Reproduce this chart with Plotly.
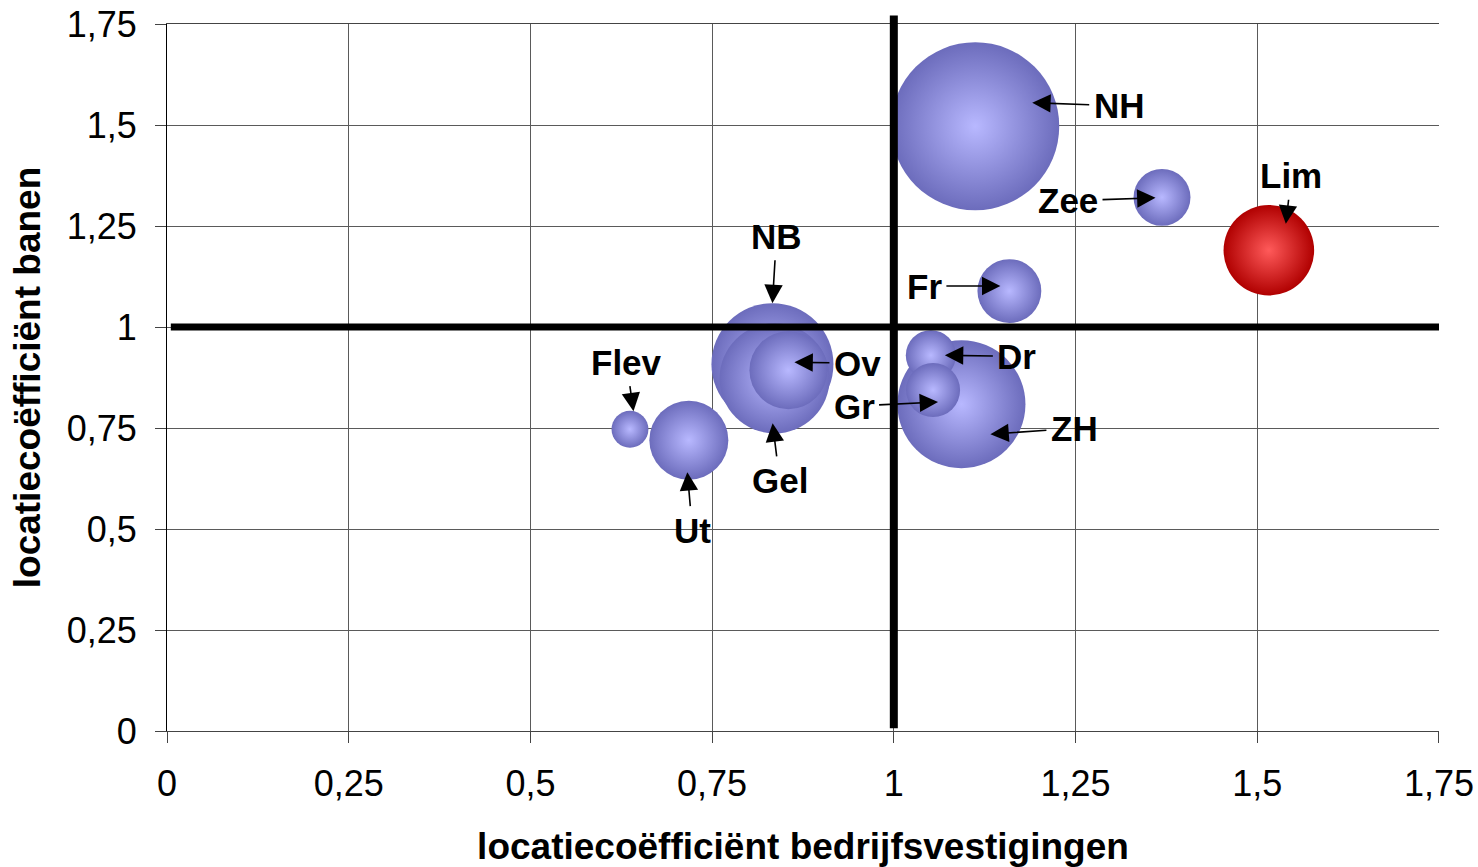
import plotly.graph_objects as go

# Data
regions = ["NH", "ZH", "NB", "Gel", "Ov", "Ut", "Lim", "Fr", "Zee", "Dr", "Gr", "Flev"]
lq_vestigingen = [1.112, 1.093, 0.833, 0.836, 0.855, 0.718, 1.516, 1.159, 1.369, 1.051, 1.054, 0.637]
lq_banen = [1.497, 0.809, 0.908, 0.873, 0.893, 0.720, 1.190, 1.089, 1.321, 0.930, 0.844, 0.747]
bubble_size = [70.6, 41.0, 37.2, 30.3, 15.2, 15.6, 20.5, 10.2, 8.1, 6.3, 7.3, 3.4]
highlight = "Lim"

x_ticks = [0, 0.25, 0.5, 0.75, 1, 1.25, 1.5, 1.75]
tick_text = ["0", "0,25", "0,5", "0,75", "1", "1,25", "1,5", "1,75"]

# label styling: (xshift, yshift, ax, ay) in pixels
label_style = {
    "NH": (57, 23.5, 87, 3),
    "Zee": (-6.5, -0.5, -87.5, 3),
    "Lim": (17, 26.5, 5.5, -48),
    "Fr": (-9, 5, -76, 0),
    "NB": (0, 61, 4, -67),
    "Gel": (-2, -45, 7, 57),
    "Ov": (6, 8, 63, 1),
    "Dr": (14, 0, 72, 1),
    "Gr": (5, -12, -84, 4),
    "ZH": (29, -30, 84, -6),
    "Flev": (3.5, 18, -7, -49),
    "Ut": (-1.5, -32, 5, 58),
}

FONT = "Liberation Sans, Arial, sans-serif"

edge_colors = ["#b00000" if r == highlight else "#6c6cbc" for r in regions]
center_colors = ["#ff5a5a" if r == highlight else "#b8b8ff" for r in regions]

fig = go.Figure()
fig.add_trace(go.Scatter(
    x=lq_vestigingen, y=lq_banen, mode="markers",
    text=regions,
    marker=dict(
        size=bubble_size, sizemode="area", sizeref=0.005,
        color=edge_colors, opacity=1,
        gradient=dict(type="radial", color=center_colors),
        line=dict(width=0),
    ),
    hoverinfo="text",
    showlegend=False,
))

annotations = []
for r, xv, yv in zip(regions, lq_vestigingen, lq_banen):
    xs, ys, ax, ay = label_style[r]
    annotations.append(dict(
        x=xv, y=yv, xref="x", yref="y", text="<b>%s</b>" % r,
        xshift=xs, yshift=ys, ax=ax, ay=ay, axref="pixel", ayref="pixel",
        showarrow=True, arrowhead=2, arrowsize=2.3, arrowwidth=1.6,
        arrowcolor="black", borderpad=4,
        font=dict(family=FONT, size=35, color="black"),
    ))

fig.update_layout(
    width=1478, height=867,
    margin=dict(l=167, r=39, t=24, b=136),
    paper_bgcolor="white", plot_bgcolor="white",
    font=dict(family=FONT, size=36, color="black"),
    annotations=annotations,
    shapes=[
        dict(type="line", xref="x", yref="paper", x0=1, x1=1, y0=0.004, y1=1.012,
             line=dict(color="black", width=8), layer="above"),
        dict(type="line", xref="paper", yref="y", x0=0.003, x1=1, y0=1, y1=1,
             line=dict(color="black", width=7), layer="above"),
    ],
)
fig.update_xaxes(
    range=[0, 1.7501], tickvals=x_ticks, ticktext=tick_text, automargin=False,
    showgrid=True, gridcolor="#5a5a5a", gridwidth=1,
    showline=True, linecolor="#444444", linewidth=1, mirror=True,
    ticks="outside", ticklen=11, tickcolor="#444444", ticklabelstandoff=10,
    ticklabeloverflow="allow",
    zeroline=False,
    title=dict(text="<b>locatiecoëfficiënt bedrijfsvestigingen</b>", standoff=37,
               font=dict(family=FONT, size=37)),
)
fig.update_yaxes(
    range=[0, 1.7501], tickvals=x_ticks, ticktext=tick_text, automargin=False,
    showgrid=True, gridcolor="#5a5a5a", gridwidth=1,
    showline=True, linecolor="black", linewidth=1,
    ticks="outside", ticklen=11, tickcolor="#444444", ticklabelstandoff=11,
    ticklabeloverflow="allow",
    zeroline=False,
    title=dict(text="<b>locatiecoëfficiënt banen</b>", standoff=14,
               font=dict(family=FONT, size=37)),
)

fig.write_html("out.html", config={"displayModeBar": False},
               post_script="document.body.style.margin='0px';")
